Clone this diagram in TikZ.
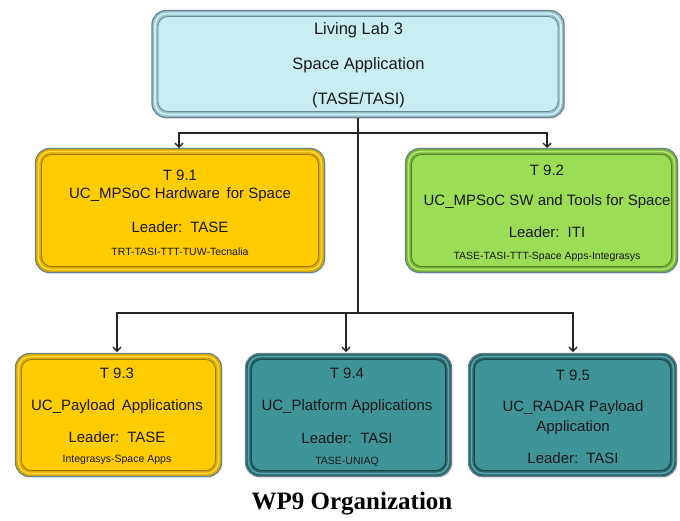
\documentclass[tikz,border=0pt]{standalone}
\usepackage{fontspec}
\setmainfont{Liberation Sans}
\newfontfamily\capfont{Liberation Serif}
\usetikzlibrary{arrows.meta,shadows}
\definecolor{cyanin}{RGB}{200,238,242}
\definecolor{cyanbev}{RGB}{150,196,204}
\definecolor{cyanhi}{RGB}{212,240,244}
\definecolor{edgegray}{RGB}{105,130,140}
\definecolor{yelin}{RGB}{255,204,0}
\definecolor{yelbev}{RGB}{222,170,0}
\definecolor{yelhi}{RGB}{250,218,50}
\definecolor{grnin}{RGB}{155,221,85}
\definecolor{grnbev}{RGB}{118,180,60}
\definecolor{grnhi}{RGB}{178,230,110}
\definecolor{tealin}{RGB}{62,148,153}
\definecolor{tealbev}{RGB}{38,100,106}
\definecolor{tealhi}{RGB}{85,165,170}
\definecolor{txtcol}{RGB}{25,25,25}
\tikzset{
  box/.style n args={3}{fill=#2, draw=edgegray, line width=1.2pt, rounded corners=14pt,
    drop shadow={opacity=0.18, shadow xshift=1pt, shadow yshift=-1.5pt},
    path picture={
      \draw[draw=#3, line width=1.6pt, rounded corners=12pt]
        ([xshift=3pt,yshift=3pt]path picture bounding box.south west) rectangle
        ([xshift=-3pt,yshift=-3pt]path picture bounding box.north east);
      \draw[draw=#2!70!black, line width=0.8pt, fill=#1, rounded corners=10pt]
        ([xshift=6pt,yshift=6pt]path picture bounding box.south west) rectangle
        ([xshift=-6pt,yshift=-6pt]path picture bounding box.north east);
    }},
  txt/.style={font=\fontsize{15}{17}\selectfont, text=txtcol, inner sep=0pt},
  toptxt/.style={font=\fontsize{16.5}{18}\selectfont, text=txtcol, inner sep=0pt},
  smalltxt/.style={font=\fontsize{10.5}{12}\selectfont, text=txtcol, inner sep=0pt},
  conn/.style={line width=1.5pt, draw=black!85},
  arr/.style={conn, -{Straight Barb[length=4pt,width=8pt,line width=1.4pt]}}
}
\begin{document}
\begin{tikzpicture}[x=1pt,y=-1pt]
\useasboundingbox (0,0) rectangle (680,520);
% boxes
\node[box={cyanin}{cyanbev}{cyanhi}, minimum width=412pt, minimum height=107pt] (top) at (358,64) {};
\node[box={yelin}{yelbev}{yelhi}, minimum width=289pt, minimum height=124pt] (t1) at (180,210.5) {};
\node[box={grnin}{grnbev}{grnhi}, minimum width=272pt, minimum height=124pt] (t2) at (541.5,210.5) {};
\node[box={yelin}{yelbev}{yelhi}, minimum width=206pt, minimum height=123pt] (t3) at (118.5,415) {};
\node[box={tealin}{tealbev}{tealhi}, minimum width=206pt, minimum height=123pt] (t4) at (348.5,415) {};
\node[box={tealin}{tealbev}{tealhi}, minimum width=208pt, minimum height=123pt] (t5) at (572.5,415) {};
% connectors
\coordinate (j1) at (358,133);
\coordinate (j2) at (358,313);
\coordinate (a1) at (179,148);
\coordinate (a2) at (547,148);
\coordinate (a3) at (117,352);
\coordinate (a4) at (346,352);
\coordinate (a5) at (573,352);
\draw[conn] (top.south) -- (j2);
\draw[arr] (j1) -| (a1);
\draw[arr] (j1) -| (a2);
\draw[arr] (j2) -| (a3);
\draw[arr] (j2) -| (a4);
\draw[arr] (j2) -| (a5);
% top texts
\node[toptxt] (l1) at (358.5,30) {Living Lab 3};
\node[toptxt] (l2) at (358.5,65) {Space Application};
\node[toptxt] (l3) at (358.5,100) {(TASE/TASI)};
% T 9.1
\node[txt] (a1t) at (180,175) {T 9.1};
\node[txt] (a1n) at (180,195) {UC\_MPSoC Hardware\, for Space};
\node[txt] (a1l) at (180,227) {Leader:\, TASE};
\node[smalltxt] (a1p) at (180,252) {TRT-TASI-TTT-TUW-Tecnalia};
% T 9.2
\node[txt] (a2t) at (547,170) {T 9.2};
\node[txt] (a2n) at (547,202) {UC\_MPSoC SW and Tools for Space};
\node[txt] (a2l) at (547,232) {Leader:\, ITI};
\node[smalltxt] (a2p) at (547,257) {TASE-TASI-TTT-Space Apps-Integrasys};
% T 9.3
\node[txt] (a3t) at (117,373) {T 9.3};
\node[txt] (a3n) at (117,407) {UC\_Payload\, Applications};
\node[txt] (a3l) at (117,437) {Leader:\, TASE};
\node[smalltxt] (a3p) at (117,460) {Integrasys-Space Apps};
% T 9.4
\node[txt] (a4t) at (347,373) {T 9.4};
\node[txt] (a4n) at (347,407) {UC\_Platform Applications};
\node[txt] (a4l) at (347,438) {Leader:\, TASI};
\node[smalltxt] (a4p) at (347,462) {TASE-UNIAQ};
% T 9.5
\node[txt] (a5t) at (573,375) {T 9.5};
\node[txt] (a5n) at (573,408) {UC\_RADAR Payload};
\node[txt] (a5m) at (573,428) {Application};
\node[txt] (a5l) at (573,458) {Leader:\, TASI};
% caption
\node[font=\capfont\bfseries\fontsize{25}{28}\selectfont, inner sep=0pt] (cap) at (352,504) {WP9 Organization};
\end{tikzpicture}
\end{document}
